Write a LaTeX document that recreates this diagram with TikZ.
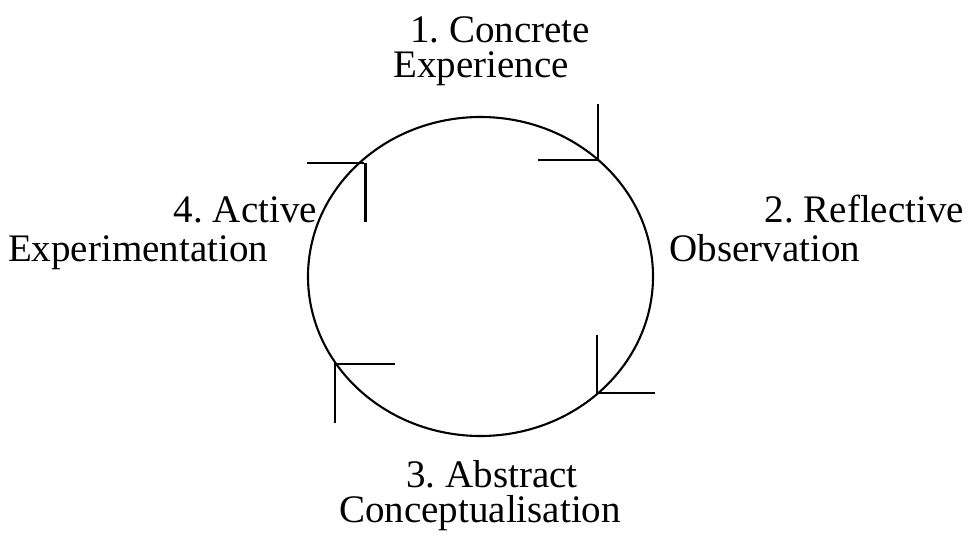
\documentclass[tikz,border=0pt]{standalone}
\usepackage{fontspec}
\setmainfont{Liberation Serif}
\begin{document}
\frenchspacing
\begin{tikzpicture}[x=1pt,y=-1pt,line width=2.1pt,
  lbl/.style={inner sep=0pt,font=\fontsize{39}{39}\selectfont},
  tick/.style={line width=2.2pt}]
\useasboundingbox (0,0) rectangle (968,537);
\coordinate (c) at (480.5,276.5);
\draw (c) ellipse [x radius=172.5pt, y radius=159.5pt];
% marks
\coordinate (tr) at (598,160);
\coordinate (tr1) at (598,104);
\coordinate (tr2) at (538,160);
\draw[tick] (tr1) -- (tr) -- (tr2);
\coordinate (tl) at (364,163);
\coordinate (tl1) at (307,163);
\coordinate (tl2) at (365.5,163);
\coordinate (tl3) at (365.5,222);
\draw[tick] (tl1) -- (tl);
\draw[tick] (tl2) -- (tl3);
\coordinate (bl) at (335,364);
\coordinate (bl1) at (395,364);
\coordinate (bl2) at (335,423);
\draw[tick] (bl1) -- (bl) -- (bl2);
\coordinate (br) at (597,393);
\coordinate (br1) at (597,335);
\coordinate (br2) at (655,393);
\draw[tick] (br1) -- (br) -- (br2);
% labels
\node[lbl,anchor=base] (l1a) at (500,43) {1. Concrete};
\node[lbl,anchor=base] (l1b) at (481,78) {Experience};
\node[lbl,anchor=base east] (l4a) at (318,223) {4. Active};
\node[lbl,anchor=base] (l4b) at (138,261) {Experimentation};
\node[lbl,anchor=base east] (l2a) at (965,223) {2. Reflective};
\node[lbl,anchor=base] (l2b) at (765,261) {Observation};
\node[lbl,anchor=base] (l3a) at (492,487) {3. Abstract};
\node[lbl,anchor=base] (l3b) at (480,522) {Conceptualisation};
\end{tikzpicture}
\end{document}
